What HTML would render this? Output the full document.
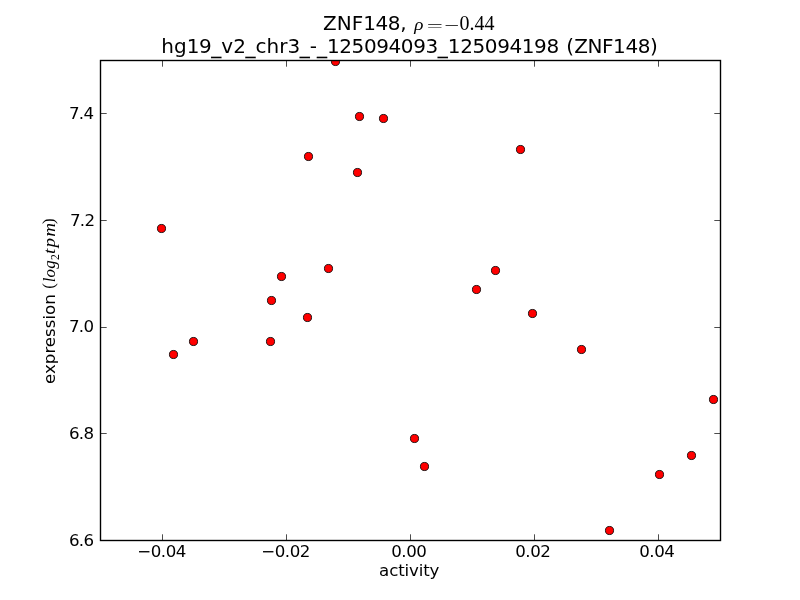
<!DOCTYPE html>
<html lang="en"><head><meta charset="utf-8"><title>ZNF148 expression vs activity</title>
<style>
html,body{margin:0;padding:0;background:#fff;}
body{width:800px;height:600px;overflow:hidden;}
svg{display:block;}
text{font-family:"DejaVu Sans","Liberation Sans",sans-serif;fill:#000;}
.tk{font-size:16.67px;}
.tl{letter-spacing:-0.5px;}
.tt{font-size:20px;}
.d{letter-spacing:-0.40px;}
.u{stroke:#000;stroke-width:0.15px;}
.z{letter-spacing:-0.4px;}
.m{font-family:"Liberation Serif","DejaVu Serif",serif;}
.mi{font-family:"Liberation Serif","DejaVu Serif",serif;font-style:italic;}
</style></head><body>
<svg width="800" height="600" viewBox="0 0 800 600">
<rect x="0" y="0" width="800" height="600" fill="#ffffff"/>
<defs><clipPath id="ax"><rect x="100.5" y="60.5" width="620" height="480"/></clipPath></defs>
<g clip-path="url(#ax)" fill="#ff0000" stroke="#000" stroke-width="0.85">
<circle cx="161.5" cy="228.5" r="4.06"/>
<circle cx="173.5" cy="354.5" r="4.06"/>
<circle cx="193.5" cy="341.5" r="4.06"/>
<circle cx="271.5" cy="300.5" r="4.06"/>
<circle cx="270.5" cy="341.5" r="4.06"/>
<circle cx="281.5" cy="276.5" r="4.06"/>
<circle cx="307.5" cy="317.5" r="4.06"/>
<circle cx="308.5" cy="156.5" r="4.06"/>
<circle cx="328.5" cy="268.5" r="4.06"/>
<circle cx="335.5" cy="61.5" r="4.06"/>
<circle cx="357.5" cy="172.5" r="4.06"/>
<circle cx="359.5" cy="116.5" r="4.06"/>
<circle cx="383.5" cy="118.5" r="4.06"/>
<circle cx="414.5" cy="438.5" r="4.06"/>
<circle cx="424.5" cy="466.5" r="4.06"/>
<circle cx="476.5" cy="289.5" r="4.06"/>
<circle cx="495.5" cy="270.5" r="4.06"/>
<circle cx="520.5" cy="149.5" r="4.06"/>
<circle cx="532.5" cy="313.5" r="4.06"/>
<circle cx="581.5" cy="349.5" r="4.06"/>
<circle cx="609.5" cy="530.5" r="4.06"/>
<circle cx="659.5" cy="474.5" r="4.06"/>
<circle cx="691.5" cy="455.5" r="4.06"/>
<circle cx="713.5" cy="399.5" r="4.06"/>
</g>
<g stroke="#000" stroke-width="0.7" fill="none">
<path d="M162.5 540.5V534.3M162.5 60.5V66.7"/>
<path d="M286.5 540.5V534.3M286.5 60.5V66.7"/>
<path d="M410.5 540.5V534.3M410.5 60.5V66.7"/>
<path d="M534.5 540.5V534.3M534.5 60.5V66.7"/>
<path d="M658.5 540.5V534.3M658.5 60.5V66.7"/>
<path d="M100.5 113.5H106.7M720.5 113.5H714.3"/>
<path d="M100.5 220.5H106.7M720.5 220.5H714.3"/>
<path d="M100.5 327.5H106.7M720.5 327.5H714.3"/>
<path d="M100.5 433.5H106.7M720.5 433.5H714.3"/>
</g>
<rect x="100.5" y="60.5" width="620" height="480" fill="none" stroke="#000" stroke-width="1.39"/>
<g class="tk tl" text-anchor="middle">
<text x="161.6" y="557">−0.04</text>
<text x="285.6" y="557">−0.02</text>
<text x="408.8" y="557">0.00</text>
<text x="532.8" y="557">0.02</text>
<text x="656.8" y="557">0.04</text>
</g><g class="tk" style="letter-spacing:-0.75px" text-anchor="end">
<text x="93.25" y="119.1">7.4</text>
<text x="94.25" y="226.1">7.2</text>
<text x="93.25" y="332.1">7.0</text>
<text x="93.25" y="439.1">6.8</text>
<text x="93.25" y="546.1">6.6</text>
</g>
<text class="tk" x="409.2" y="575.7" text-anchor="middle" style="letter-spacing:-0.15px">activity</text>
<g transform="translate(54.7,384) rotate(-90)">
<text class="tk" x="0" y="0">expression</text>
<text class="m" font-size="16.67px" transform="translate(95.3,-0.8) scale(1,0.95)">(</text>
<text class="mi" font-size="16px" transform="translate(101.7,0) scale(1.05,1)" style="letter-spacing:0.2px">log</text>
<text class="m" font-size="11.67px" x="124" y="4">2</text>
<text class="mi" font-size="16px" transform="translate(130,0) scale(1.2,1)" style="letter-spacing:1.0px">tpm</text>
<text class="m" font-size="16.67px" transform="translate(160.1,-0.8) scale(1,0.95)">)</text>
</g>
<text class="tt" x="323" y="29.8">ZNF<tspan class="d">148</tspan>,</text>
<text class="mi" font-size="17px" transform="translate(414.3,29.8) scale(1.13,1)">ρ</text>
<text class="m" font-size="20px" transform="translate(426.7,31.15) scale(1.43,0.78)">=</text>
<text class="m" font-size="20px" transform="translate(444.3,31.3) scale(1.33,0.8)">−</text>
<text class="m" font-size="20px" x="459.6" y="30">0.44</text>
<text class="tt" x="409.6" y="53" text-anchor="middle">hg<tspan class="d">19</tspan><tspan class="u" dy="0.5">_</tspan><tspan dy="-0.5">v</tspan><tspan class="d">2</tspan><tspan class="u" dy="0.5">_</tspan><tspan dy="-0.5">chr</tspan><tspan class="d">3</tspan><tspan class="u" dy="0.5">_</tspan><tspan dy="-0.5">-</tspan><tspan class="u" dy="0.5">_</tspan><tspan class="d" dy="-0.5">125094093</tspan><tspan class="u" dy="0.5">_</tspan><tspan class="d" dy="-0.5">125094198</tspan> <tspan class="p" dx="1.2">(</tspan><tspan class="z">ZNF</tspan><tspan class="d">148</tspan>)</text>
</svg></body></html>
